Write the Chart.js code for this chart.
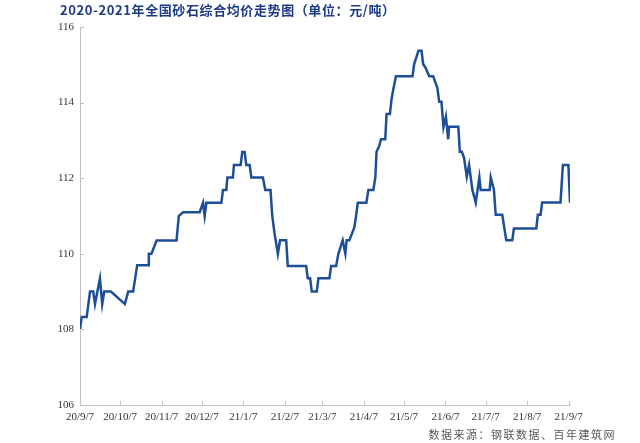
<!DOCTYPE html>
<html>
<head>
<meta charset="utf-8">
<script src="https://cdn.jsdelivr.net/npm/chart.js@4/dist/chart.umd.min.js"></script>
<style>
html,body{margin:0;padding:0;background:#fff;}
#wrap{width:640px;height:443px;position:relative;}
</style>
</head>
<body>
<div id="wrap"><canvas id="c" width="640" height="443"></canvas></div>
<script>
// Title and source
const chartTitle = "2020-2021年全国砂石综合均价走势图（单位：元/吨）";
const sourceText = "数据来源：钢联数据、百年建筑网";

// X positions: days since 2020-09-07
const dayOffsets = [0,1.3,5,7.5,9.9,11.2,14.9,16.6,18.1,23.1,33.5,36,39.7,42.7,50.9,51.4,53.4,57.2,72.1,73.8,77,89.4,91.9,93.1,94.4,105.6,106.8,109.3,110.1,114.2,115,120,121.2,123,124.2,126.7,128,136.6,138.4,142.3,143.6,145.3,147.8,149.4,154,155.2,168.9,170.1,171.9,173.1,176.8,178.1,186.3,187.6,191.3,193,196.2,198.2,199.2,201.2,204.9,206.2,207.5,213.9,215.4,219.1,220.6,221.5,223.5,224.8,228,229,231.5,232.7,234,236,248.4,249.6,252.8,255.1,256.3,258.3,260.8,263.8,265.3,267,268.3,270,271.5,273.3,275,275.7,282.6,283.7,285.2,286.9,288.9,290.6,293.1,295.6,298.3,299.3,306,306.8,309.2,310.5,315.4,318.4,322.9,324.1,340.8,342,344,345.2,358.9,360.7,364.8,366];

// Price, 元/吨
const prices = [108.0,108.33,108.33,109.0,109.0,108.67,109.35,108.67,109.0,109.0,108.67,109.0,109.0,109.7,109.7,110.0,110.0,110.35,110.35,111.0,111.1,111.1,111.35,111.0,111.35,111.35,111.69,111.69,112.02,112.02,112.35,112.35,112.69,112.69,112.35,112.35,112.02,112.02,111.69,111.69,111.0,110.54,110.0,110.36,110.36,109.68,109.68,109.35,109.35,109.0,109.0,109.35,109.35,109.68,109.68,110.0,110.36,110.0,110.36,110.36,110.7,111.0,111.35,111.35,111.69,111.69,112.02,112.7,112.85,113.03,113.03,113.7,113.7,114.09,114.35,114.7,114.7,115.02,115.37,115.37,115.02,114.91,114.7,114.7,114.55,114.38,114.02,114.02,113.35,113.63,113.03,113.36,113.36,112.7,112.7,112.53,112.04,112.35,111.69,111.35,112.02,111.69,111.69,112.02,111.69,111.03,111.03,110.36,110.36,110.67,110.67,111.03,111.03,111.36,111.36,112.35,112.35,111.35];

// X tick days and labels
const xTickDays = [0,30,61,91,122,153,181,212,242,273,303,334,365];
const xTickLabels = ["20/9/7","20/10/7","20/11/7","20/12/7","21/1/7","21/2/7","21/3/7","21/4/7","21/5/7","21/6/7","21/7/7","21/8/7","21/9/7"];
const yTicks = [106,108,110,112,114,116];

const points = dayOffsets.map((d,i)=>({x:d,y:prices[i]}));

const deco = {
  id:'deco',
  afterDraw(chart){
    const ctx = chart.ctx;
    const xs = chart.scales.x, ys = chart.scales.y;
    ctx.save();
    // inner tick marks
    ctx.strokeStyle = '#c0c0c0';
    ctx.lineWidth = 1;
    xTickDays.forEach(d=>{
      const px = Math.round(xs.getPixelForValue(d))+0.5;
      ctx.beginPath();ctx.moveTo(px,ys.bottom);ctx.lineTo(px,ys.bottom-4);ctx.stroke();
    });
    yTicks.forEach(v=>{
      const py = Math.round(ys.getPixelForValue(v))+0.5;
      ctx.beginPath();ctx.moveTo(xs.left,py);ctx.lineTo(xs.left+4,py);ctx.stroke();
    });
    // title
    ctx.fillStyle = '#1d3b85';
    ctx.font = 'bold 13px "Noto Sans CJK SC", sans-serif';
    ctx.textBaseline = 'middle';
    ctx.textAlign = 'left';
    ctx.letterSpacing = '0.6px';
    ctx.fillText(chartTitle, 60, 10);
    // source
    ctx.fillStyle = '#595959';
    ctx.font = '11px "Noto Sans CJK SC", sans-serif';
    ctx.textAlign = 'right';
    ctx.letterSpacing = '1.5px';
    ctx.fillText(sourceText, 616, 435);
    ctx.restore();
  }
};

new Chart(document.getElementById('c'), {
  type:'line',
  data:{
    datasets:[{
      data:points,
      borderColor:'#1f4e99',
      borderWidth:2.5,
      pointRadius:0,
      tension:0,
      fill:false
    }]
  },
  options:{
    responsive:false,
    animation:false,
    devicePixelRatio:1,
    layout:{padding:{top:27,right:70,bottom:0,left:0}},
    plugins:{legend:{display:false},tooltip:{enabled:false}},
    scales:{
      x:{
        type:'linear',
        min:0,max:366,
        afterFit(s){ s.height = 38; },
        afterBuildTicks(s){ s.ticks = xTickDays.map(v=>({value:v})); },
        grid:{drawOnChartArea:false,drawTicks:false},
        border:{color:'#c0c0c0',width:1},
        ticks:{
          autoSkip:false,maxRotation:0,padding:6,
          color:'#333',
          font:{family:'"Liberation Serif", serif',size:11},
          callback(v){ const i = xTickDays.indexOf(v); return i>=0 ? xTickLabels[i] : ''; }
        }
      },
      y:{
        min:106,max:116,
        afterFit(s){ s.width = 80; },
        afterBuildTicks(s){ s.ticks = yTicks.map(v=>({value:v})); },
        grid:{drawOnChartArea:false,drawTicks:false},
        border:{color:'#c0c0c0',width:1},
        ticks:{
          padding:6,color:'#333',
          font:{family:'"Liberation Serif", serif',size:11}
        }
      }
    }
  },
  plugins:[deco]
});
</script>
</body>
</html>
